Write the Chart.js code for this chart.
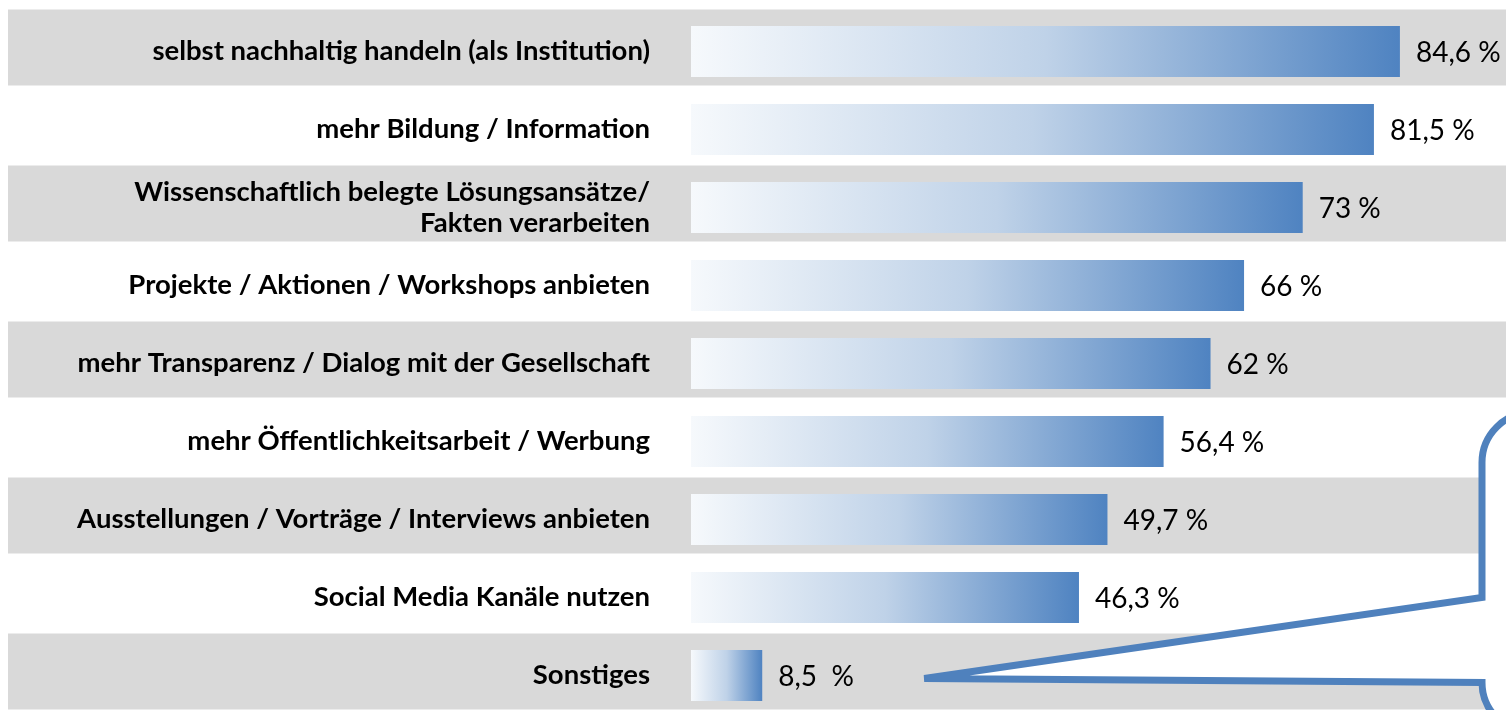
<!DOCTYPE html>
<html>
<head>
<meta charset="utf-8">
<script src="https://cdn.jsdelivr.net/npm/chart.js@4.4.1/dist/chart.umd.min.js"></script>
<style>
  html, body { margin: 0; background: #ffffff; overflow: hidden; }
  #wrap { width: 1506px; height: 716px; position: relative; }
</style>
</head>
<body>
<div id="wrap"><canvas id="chart"></canvas></div>
<script>
const categories = [
    "selbst nachhaltig handeln (als Institution)",
    "mehr Bildung / Information",
    ["Wissenschaftlich belegte Lösungsansätze/", "Fakten verarbeiten"],
    "Projekte / Aktionen / Workshops anbieten",
    "mehr Transparenz / Dialog mit der Gesellschaft",
    "mehr Öffentlichkeitsarbeit / Werbung",
    "Ausstellungen / Vorträge / Interviews anbieten",
    "Social Media Kanäle nutzen",
    "Sonstiges"
];
const values = [84.6, 81.5, 73, 66, 62, 56.4, 49.7, 46.3, 8.5];
const valueLabels = ["84,6 %", "81,5 %", "73 %", "66 %", "62 %", "56,4 %", "49,7 %", "46,3 %", "8,5  %"];

const blue = "#4f81bd";

// grey bands behind every other row (drawn before the axis labels)
const bandPlugin = {
    id: "bands",
    beforeDraw(chart) {
        const ctx = chart.ctx;
        const y = chart.scales.y;
        ctx.save();
        ctx.fillStyle = "#d9d9d9";
        for (let i = 0; i < categories.length; i += 2) {
            const yc = y.getPixelForValue(i);
            ctx.fillRect(8, yc - 42, chart.width, 76);
        }
        ctx.restore();
    }
};

// value labels right of the bars
const valuePlugin = {
    id: "values",
    afterDatasetsDraw(chart) {
        const ctx = chart.ctx;
        const meta = chart.getDatasetMeta(0);
        ctx.save();
        ctx.font = "28px Lato";
        ctx.fillStyle = "#000000";
        ctx.textBaseline = "middle";
        meta.data.forEach(function(bar, i) {
            ctx.fillText(valueLabels[i], bar.x + 16, bar.y + 1);
        });
        ctx.restore();
    }
};

// speech bubble pointing at "Sonstiges"
const calloutPlugin = {
    id: "callout",
    afterDraw(chart) {
        const ctx = chart.ctx;
        const bars = chart.getDatasetMeta(0).data;
        const last = bars[bars.length - 1];
        const tipX = last.x + 162;
        const tipY = last.y + 3;
        const left = chart.chartArea.right - 24;
        const r = 50;
        const top = bars[5].y - 29;
        const joinTop = bars[7].y;
        const joinBottom = last.y + 7;
        const far = chart.width + 80;
        ctx.save();
        ctx.beginPath();
        ctx.moveTo(far, top);
        ctx.lineTo(left + r, top);
        ctx.arcTo(left, top, left, top + r, r);
        ctx.lineTo(left, joinTop);
        ctx.lineTo(tipX, tipY);
        ctx.lineTo(left, joinBottom);
        ctx.arc(left + r, joinBottom, r, Math.PI, Math.PI / 2, true);
        ctx.lineTo(far, joinBottom + r);
        ctx.closePath();
        ctx.fillStyle = "#ffffff";
        ctx.fill();
        ctx.lineWidth = 7;
        ctx.strokeStyle = blue;
        ctx.lineJoin = "miter";
        ctx.stroke();
        ctx.restore();
    }
};

function barGradient(context) {
    const chart = context.chart;
    if (!chart.chartArea || context.dataIndex === undefined) return blue;
    const x = chart.scales.x;
    const x0 = x.getPixelForValue(0);
    const x1 = x.getPixelForValue(values[context.dataIndex]);
    const g = chart.ctx.createLinearGradient(x0, 0, x1, 0);
    g.addColorStop(0, "#f6f9fc");
    g.addColorStop(0.5, "#bfd2e8");
    g.addColorStop(1, "#4f83c1");
    return g;
}

function draw() {
    new Chart(document.getElementById("chart"), {
        type: "bar",
        data: {
            labels: categories,
            datasets: [{
                data: values,
                backgroundColor: barGradient,
                borderWidth: 0,
                barPercentage: 0.654,
                categoryPercentage: 1
            }]
        },
        options: {
            indexAxis: "y",
            responsive: true,
            maintainAspectRatio: false,
            animation: false,
            layout: { padding: { top: 12.5, bottom: 1.5, left: 0, right: 0 } },
            plugins: {
                legend: { display: false },
                tooltip: { enabled: false }
            },
            scales: {
                x: {
                    display: false,
                    min: 0,
                    max: 97.26
                },
                y: {
                    grid: { display: false, drawTicks: false },
                    border: { display: false },
                    afterFit: function(scale) {
                        scale.width = 691;
                        scale.paddingTop = 0;
                        scale.paddingBottom = 0;
                    },
                    ticks: {
                        autoSkip: false,
                        padding: 41,
                        color: "#000000",
                        font: { family: "Lato", weight: "bold", size: 27.5, lineHeight: 1.13 }
                    }
                }
            }
        },
        plugins: [bandPlugin, valuePlugin, calloutPlugin]
    });
}

Promise.all([
    document.fonts.load("bold 27.5px Lato"),
    document.fonts.load("28px Lato")
]).then(draw, draw);
</script>
</body>
</html>
